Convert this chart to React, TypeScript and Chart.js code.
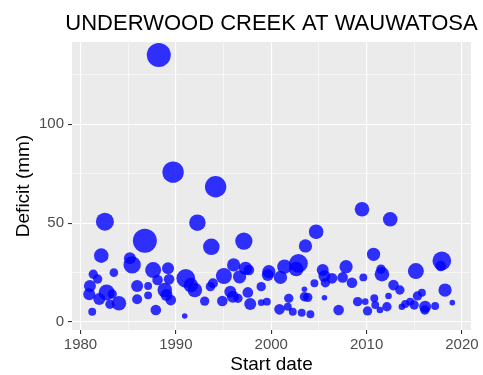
import React, { useEffect, useRef } from 'react';
import { Chart, registerables } from 'chart.js';

Chart.register(...registerables);

const chartTitle = 'UNDERWOOD CREEK AT WAUWATOSA';
const xAxisTitle = 'Start date';
const yAxisTitle = 'Deficit (mm)';

// Start of each deficit event (decimal year)
const startYears: number[] = [
  1988.21, 1989.71, 1994.17, 1982.56, 1992.26, 1986.75, 1993.72, 1997.13, 1982.18, 1985.18,
  1985.42, 1983.5, 1981.34, 1981.8, 1980.99, 1980.92, 1981.97, 1982.74, 1983.33, 1983.09,
  1984.03, 1981.23, 1985.94, 1985.94, 1987.09, 1987.09, 1987.62, 1988.08, 1989.18, 1989.29,
  1988.84, 1989.02, 1989.47, 1987.9, 1990.93, 1991.04, 1991.57, 1991.99, 1993.02, 1993.62,
  1995.04, 1993.89, 1994.87, 1995.71, 1995.98, 1996.06, 1996.68, 1997.31, 1997.66, 1997.55,
  1997.8, 1996.51, 1998.95, 1998.95, 1999.54, 1999.75, 1999.64, 2000.97, 2001.39, 2000.87,
  2001.84, 2001.74, 2002.26, 2002.86, 2002.62, 2003.59, 2004.71, 2003.48, 2003.48, 2003.83,
  2003.2, 2004.11, 2004.53, 2005.4, 2005.58, 2005.68, 2006.38, 2005.58, 2007.07, 2007.49,
  2007.85, 2008.47, 2009.06, 2009.66, 2009.52, 2009.86, 2010.1, 2010.73, 2010.81, 2010.91,
  2011.4, 2011.51, 2011.61, 2012.13, 2012.3, 2012.48, 2012.82, 2013.49, 2013.7, 2014.05,
  2014.57, 2014.99, 2015.17, 2015.33, 2015.8, 2016.14, 2016.11, 2017.19, 2017.89, 2017.78,
  2018.23, 2018.99,
];

// Cumulative deficit of each event (mm)
const deficits: number[] = [
  135.1, 75.8, 68.4, 50.7, 50.2, 41.1, 38.0, 40.9, 33.5, 32.2,
  28.8, 24.9, 24.1, 21.7, 18.1, 13.9, 11.5, 14.9, 14.1, 8.9,
  9.4, 5.1, 18.1, 11.4, 18.1, 13.4, 26.2, 21.2, 27.1, 21.5,
  16.1, 13.6, 11.0, 6.0, 2.9, 22.0, 18.6, 16.1, 10.5, 17.8,
  23.2, 19.5, 10.5, 15.2, 12.7, 28.8, 22.8, 27.1, 26.2, 14.9,
  9.0, 11.9, 17.8, 9.7, 10.2, 25.4, 23.7, 22.5, 27.9, 6.3,
  11.9, 7.6, 5.1, 29.6, 26.7, 38.4, 45.6, 16.5, 12.7, 12.4,
  4.6, 3.8, 19.5, 26.2, 23.2, 19.8, 22.0, 12.2, 6.0, 22.5,
  27.9, 19.8, 10.2, 22.5, 57.0, 10.2, 5.5, 34.2, 11.9, 8.5,
  6.0, 26.7, 24.1, 7.6, 13.1, 51.9, 18.6, 16.1, 7.6, 9.0,
  10.2, 8.5, 25.7, 13.1, 14.7, 7.6, 6.0, 8.0, 30.9, 28.3,
  16.1, 9.7,
];

// Length of each event (days) -> bubble area
const durationDays: number[] = [
  92, 73, 73, 52, 44, 92, 44, 48, 34, 23,
  48, 12, 14, 14, 23, 23, 23, 41, 14, 14,
  34, 10, 23, 16, 10, 10, 41, 18, 23, 18,
  34, 23, 18, 18, 5, 56, 34, 34, 14, 14,
  41, 16, 18, 23, 23, 28, 28, 28, 18, 18,
  23, 14, 14, 7, 10, 28, 23, 28, 34, 18,
  14, 10, 10, 56, 34, 28, 34, 5, 14, 14,
  10, 10, 10, 23, 23, 14, 18, 5, 18, 18,
  28, 18, 14, 10, 34, 7, 14, 28, 10, 10,
  7, 14, 34, 14, 7, 34, 18, 14, 7, 10,
  10, 14, 41, 14, 10, 23, 14, 10, 56, 18,
  28, 5,
];

const xMajorTicks: number[] = [1980, 1990, 2000, 2010, 2020];
const xMinorTicks: number[] = [1985, 1995, 2005, 2015];
const yMajorTicks: number[] = [0, 50, 100];
const yMinorTicks: number[] = [25, 75, 125];

const FONT = '"Liberation Sans", Arial, Helvetica, sans-serif';
const PANEL_BG = '#EBEBEB';
const AXIS_TEXT = '#4D4D4D';
const TICK_MARK = '#333333';
const POINT_FILL = 'rgba(0, 0, 255, 0.8)';

function bubbleRadius(days: number): number {
  return 1.25 * Math.sqrt(days);
}

const panelBackground = {
  id: 'panelBackground',
  beforeDraw(chart: Chart) {
    const { ctx, chartArea: a } = chart;
    ctx.save();
    ctx.fillStyle = PANEL_BG;
    ctx.fillRect(a.left, a.top, a.right - a.left, a.bottom - a.top);
    ctx.restore();
  },
};

const plotTitle = {
  id: 'plotTitle',
  afterDraw(chart: Chart) {
    const { ctx, chartArea: a } = chart;
    ctx.save();
    ctx.fillStyle = '#000000';
    ctx.font = `22px ${FONT}`;
    ctx.textAlign = 'center';
    ctx.textBaseline = 'alphabetic';
    ctx.fillText(chartTitle, (a.left + a.right) / 2, 30);
    ctx.restore();
  },
};

export default function App() {
  const canvasRef = useRef<HTMLCanvasElement | null>(null);

  useEffect(() => {
    const canvas = canvasRef.current;
    if (!canvas) return;

    const points = startYears.map((x, i) => ({
      x,
      y: deficits[i],
      r: bubbleRadius(durationDays[i]),
    }));

    const xAll = [...xMajorTicks, ...xMinorTicks].sort((a, b) => a - b);
    const yAll = [...yMajorTicks, ...yMinorTicks].sort((a, b) => a - b);
    const isMajorX = (v: number) => xMajorTicks.includes(v);
    const isMajorY = (v: number) => yMajorTicks.includes(v);

    const chart = new Chart(canvas, {
      type: 'bubble',
      data: {
        datasets: [
          {
            data: points,
            backgroundColor: POINT_FILL,
            borderWidth: 0,
            hoverBorderWidth: 0,
            hoverRadius: 0,
          },
        ],
      },
      options: {
        responsive: false,
        animation: false,
        events: [],
        layout: { padding: { top: 42, right: 11, left: 0, bottom: 0 } },
        plugins: {
          legend: { display: false },
          title: { display: false },
          tooltip: { enabled: false },
        },
        scales: {
          x: {
            type: 'linear',
            min: 1979.11,
            max: 2020.95,
            afterBuildTicks: (scale: any) => {
              scale.ticks = xAll.map((v) => ({ value: v }));
            },
            afterFit: (scale: any) => {
              scale.height = 45;
            },
            border: { display: false },
            grid: {
              color: '#FFFFFF',
              lineWidth: (c: any) => (c.tick && isMajorX(c.tick.value) ? 1.1 : 0.55),
              tickColor: (c: any) => (c.tick && isMajorX(c.tick.value) ? TICK_MARK : 'rgba(0,0,0,0)'),
              tickWidth: 1.1,
              tickLength: 4,
              drawTicks: true,
            },
            ticks: {
              autoSkip: false,
              maxRotation: 0,
              padding: 2,
              color: AXIS_TEXT,
              font: { family: FONT, size: 15 },
              callback: (v: any) => (isMajorX(Number(v)) ? String(v) : ''),
            },
            title: {
              display: true,
              text: xAxisTitle,
              color: '#000000',
              font: { family: FONT, size: 19, lineHeight: 1 },
              padding: { top: 0, bottom: 1 },
            },
          },
          y: {
            type: 'linear',
            min: -4.15,
            max: 141.7,
            afterBuildTicks: (scale: any) => {
              scale.ticks = yAll.map((v) => ({ value: v }));
            },
            afterFit: (scale: any) => {
              scale.width = 72;
            },
            border: { display: false },
            grid: {
              color: '#FFFFFF',
              lineWidth: (c: any) => (c.tick && isMajorY(c.tick.value) ? 1.1 : 0.55),
              tickColor: (c: any) => (c.tick && isMajorY(c.tick.value) ? TICK_MARK : 'rgba(0,0,0,0)'),
              tickWidth: 1.1,
              tickLength: 4,
              drawTicks: true,
            },
            ticks: {
              autoSkip: false,
              padding: 4,
              color: AXIS_TEXT,
              font: { family: FONT, size: 15 },
              callback: (v: any) => (isMajorY(Number(v)) ? String(v) : ''),
            },
            title: {
              display: true,
              text: yAxisTitle,
              color: '#000000',
              font: { family: FONT, size: 19, lineHeight: 1 },
              padding: { top: 14, bottom: 0 },
            },
          },
        },
      },
      plugins: [panelBackground, plotTitle],
    });

    return () => {
      chart.destroy();
    };
  }, []);

  return (
    <div style={{ position: 'fixed', left: 0, top: 0, width: 483, height: 375, background: '#FFFFFF' }}>
      <canvas ref={canvasRef} width={483} height={375} style={{ display: 'block', width: 483, height: 375 }} />
    </div>
  );
}
